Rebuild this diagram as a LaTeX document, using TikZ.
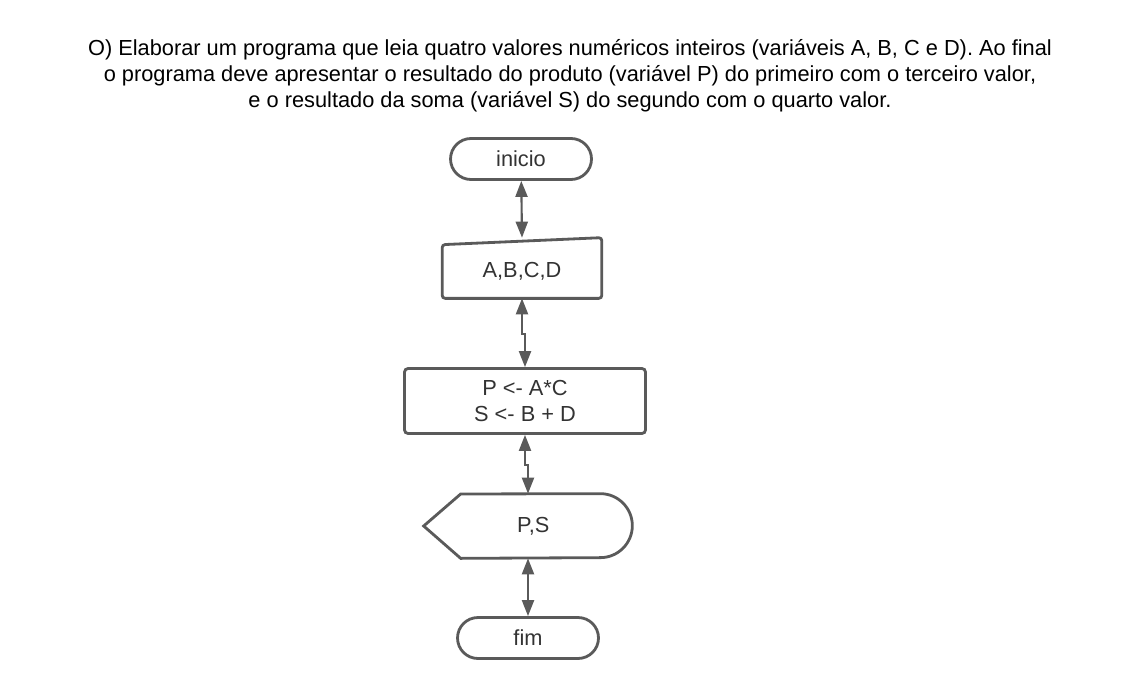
\documentclass[tikz,border=0pt]{standalone}
\usepackage{fontspec}
\setmainfont{Liberation Sans}
\usetikzlibrary{arrows.meta}
\definecolor{linegray}{HTML}{5A5A5A}
\definecolor{txtgray}{HTML}{333333}
\begin{document}
\begin{tikzpicture}[x=0.02cm,y=-0.02cm,
        every node/.style={font=\fontsize{12.4}{15}\selectfont,text=txtgray},
        term/.style={draw=linegray,line width=1.6pt,rounded corners=0.41cm,minimum width=2.82cm,minimum height=0.82cm},
        shp/.style={draw=linegray,line width=1.6pt},
        flow/.style={{Triangle[width=0.24cm,length=0.32cm]}-{Triangle[width=0.24cm,length=0.32cm]},line width=1.2pt,draw=linegray}]
    \useasboundingbox (0,0) rectangle (1140,700);
    \node[align=center,text=black,font=\fontsize{12.4}{14.75}\selectfont] (title) at (570,76)
        {O) Elaborar um programa que leia quatro valores numéricos inteiros (variáveis A, B, C e D). Ao final\\
         o programa deve apresentar o resultado do produto (variável P) do primeiro com o terceiro valor,\\
         e o resultado da soma (variável S) do segundo com o quarto valor.};
    \node[term] (inicio) at (521,159) {inicio};
    \node[minimum width=3.18cm,minimum height=1.06cm] (abcd) at (522,271.5) {A,B,C,D};
    \draw[shp,rounded corners=0.06cm] (abcd.south west) -- (abcd.north west) -- ([yshift=0.14cm]abcd.north east) -- (abcd.south east) -- cycle;
    \node[shp,rounded corners=0.07cm,minimum width=4.82cm,minimum height=1.3cm,align=center] (proc) at (525,401)
        {P <- A*C\\S <- B + D};
    \node[minimum width=4.16cm,minimum height=1.28cm] (disp) at (528,526) {\hspace{6pt}P,S};
    \draw[shp] (disp.west) -- ++(37,-32) -- ([xshift=-0.64cm]disp.north east)
        arc[start angle=90,end angle=-90,radius=0.64cm] -- ([xshift=0.74cm]disp.south west) -- cycle;
    \node[term] (fim) at (528,638) {fim};
    \draw[flow] (inicio) -- ([yshift=0.14cm]abcd.north);
    \draw[flow] (abcd.south) -- ++(0,36) -| (proc.north);
    \draw[flow] (proc.south) -- ++(0,30) -| (disp.north);
    \draw[flow] (disp) -- (fim);
\end{tikzpicture}
\end{document}
